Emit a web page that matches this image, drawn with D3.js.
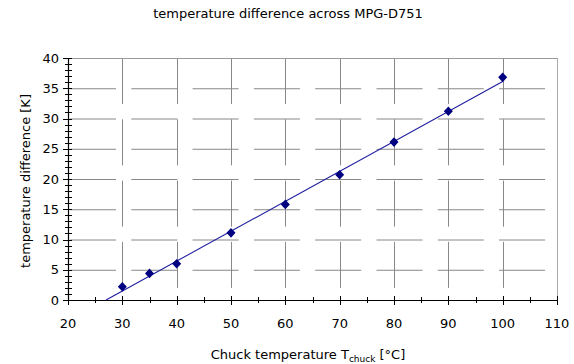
<!DOCTYPE html>
<html lang="en">
<head>
  <meta charset="UTF-8" />
  <title>temperature difference across MPG-D751</title>
  <script src="https://d3js.org/d3.v7.min.js"></script>
  <style>
    body { margin: 0; background: #fff; }
    svg { display: block; font-family: "DejaVu Sans", Verdana, sans-serif; }
    .tick-label { font-size: 13px; fill: #000; }
    .axis-title { font-size: 13px; fill: #000; }
    .chart-title { font-size: 13px; fill: #000; }
  </style>
</head>
<body>
<svg id="chart" width="574" height="364"></svg>
<script>
// chuck temperature [°C]
const chuckTemp = [30, 35, 40, 50, 60, 70, 80, 90, 100];
// measured temperature difference [K]
const tempDiff = [2.2, 4.4, 6.0, 11.1, 15.8, 20.7, 26.1, 31.2, 36.8];
const xTicks = [20, 30, 40, 50, 60, 70, 80, 90, 100, 110];
const yTicks = [0, 5, 10, 15, 20, 25, 30, 35, 40];

const plot = { left: 68, right: 557, top: 58, bottom: 300 };

const svg = d3.select("#chart");

const x = d3.scaleLinear().domain([20, 110]).range([plot.left, plot.right]);
const y = d3.scaleLinear().domain([0, 40]).range([plot.bottom, plot.top]);

// grid (broken lines like the original export)
const gridColor = "#888";
svg.append("g").selectAll("line")
  .data(yTicks.filter(d => d > 0 && d < 40))
  .enter().append("line")
  .attr("x1", plot.left + 2).attr("x2", plot.right)
  .attr("y1", d => y(d) + 0.5).attr("y2", d => y(d) + 0.5)
  .attr("stroke", gridColor)
  .attr("stroke-dasharray", "46,15.3");

svg.append("g").selectAll("line")
  .data(xTicks.filter(d => d > 20 && d < 110))
  .enter().append("line")
  .attr("x1", d => Math.round(x(d)) + 0.5).attr("x2", d => Math.round(x(d)) + 0.5)
  .attr("y1", plot.top).attr("y2", plot.bottom)
  .attr("stroke", gridColor)
  .attr("stroke-dasharray", "46,15.3");

// plot border (top and right)
svg.append("line")
  .attr("x1", plot.left).attr("x2", plot.right)
  .attr("y1", plot.top + 0.5).attr("y2", plot.top + 0.5)
  .attr("stroke", "#999");
svg.append("line")
  .attr("x1", plot.right + 0.5).attr("x2", plot.right + 0.5)
  .attr("y1", plot.top).attr("y2", plot.bottom)
  .attr("stroke", "#aaa");

// axes lines
svg.append("line")
  .attr("x1", plot.left + 0.5).attr("x2", plot.left + 0.5)
  .attr("y1", plot.top).attr("y2", plot.bottom + 1)
  .attr("stroke", "#000").attr("stroke-width", 1.2);
svg.append("line")
  .attr("x1", plot.left).attr("x2", plot.right + 1)
  .attr("y1", plot.bottom + 0.5).attr("y2", plot.bottom + 0.5)
  .attr("stroke", "#000").attr("stroke-width", 1.2);

// y ticks: minor every 1, major every 5
svg.append("g").selectAll("line")
  .data(d3.range(0, 41, 1))
  .enter().append("line")
  .attr("x1", d => d % 5 === 0 ? plot.left - 5 : plot.left - 3)
  .attr("x2", plot.left + 4)
  .attr("y1", d => Math.round(y(d)) + 0.5).attr("y2", d => Math.round(y(d)) + 0.5)
  .attr("stroke", "#000");

// x ticks: minor every 5, major every 10
svg.append("g").selectAll("line")
  .data(d3.range(20, 111, 5))
  .enter().append("line")
  .attr("x1", d => Math.round(x(d)) + 0.5).attr("x2", d => Math.round(x(d)) + 0.5)
  .attr("y1", d => d % 10 === 0 ? plot.bottom - 4 : plot.bottom - 3)
  .attr("y2", d => d % 10 === 0 ? plot.bottom + 5 : plot.bottom + 3)
  .attr("stroke", "#000");

// tick labels
svg.append("g").selectAll("text")
  .data(yTicks)
  .enter().append("text")
  .attr("class", "tick-label")
  .attr("x", plot.left - 9)
  .attr("y", d => y(d))
  .attr("dy", "0.36em")
  .attr("text-anchor", "end")
  .text(d => d);

svg.append("g").selectAll("text")
  .data(xTicks)
  .enter().append("text")
  .attr("class", "tick-label")
  .attr("x", d => x(d))
  .attr("y", plot.bottom + 28)
  .attr("text-anchor", "middle")
  .text(d => d);

// linear trend line (least squares)
const mx = d3.mean(chuckTemp), my = d3.mean(tempDiff);
const slope = d3.sum(chuckTemp, (v, i) => (v - mx) * (tempDiff[i] - my)) /
              d3.sum(chuckTemp, v => (v - mx) * (v - mx));
const icpt = my - slope * mx;
const x0 = -icpt / slope;
const x1 = d3.max(chuckTemp);
svg.append("line")
  .attr("x1", x(x0)).attr("y1", y(0))
  .attr("x2", x(x1)).attr("y2", y(slope * x1 + icpt))
  .attr("stroke", "#1f1fa0").attr("stroke-width", 1.1);

// markers
svg.append("g").selectAll("path")
  .data(chuckTemp)
  .enter().append("path")
  .attr("transform", (d, i) => `translate(${x(d)},${y(tempDiff[i])})`)
  .attr("d", "M0,-4.8L4.5,0L0,4.8L-4.5,0Z")
  .attr("fill", "#000080");

// titles
svg.append("text")
  .attr("class", "chart-title")
  .attr("x", 288).attr("y", 18)
  .attr("text-anchor", "middle")
  .text("temperature difference across MPG-D751");

svg.append("text")
  .attr("class", "axis-title")
  .attr("transform", `translate(30,${(plot.top + plot.bottom) / 2 + 2}) rotate(-90)`)
  .attr("text-anchor", "middle")
  .text("temperature difference [K]");

const xt = svg.append("text")
  .attr("class", "axis-title")
  .attr("x", 308).attr("y", 359)
  .attr("text-anchor", "middle");
xt.append("tspan").text("Chuck temperature T");
xt.append("tspan").attr("dy", 3).attr("font-size", "9px").text("chuck");
xt.append("tspan").attr("dy", -3).text(" [°C]");
</script>
</body>
</html>
